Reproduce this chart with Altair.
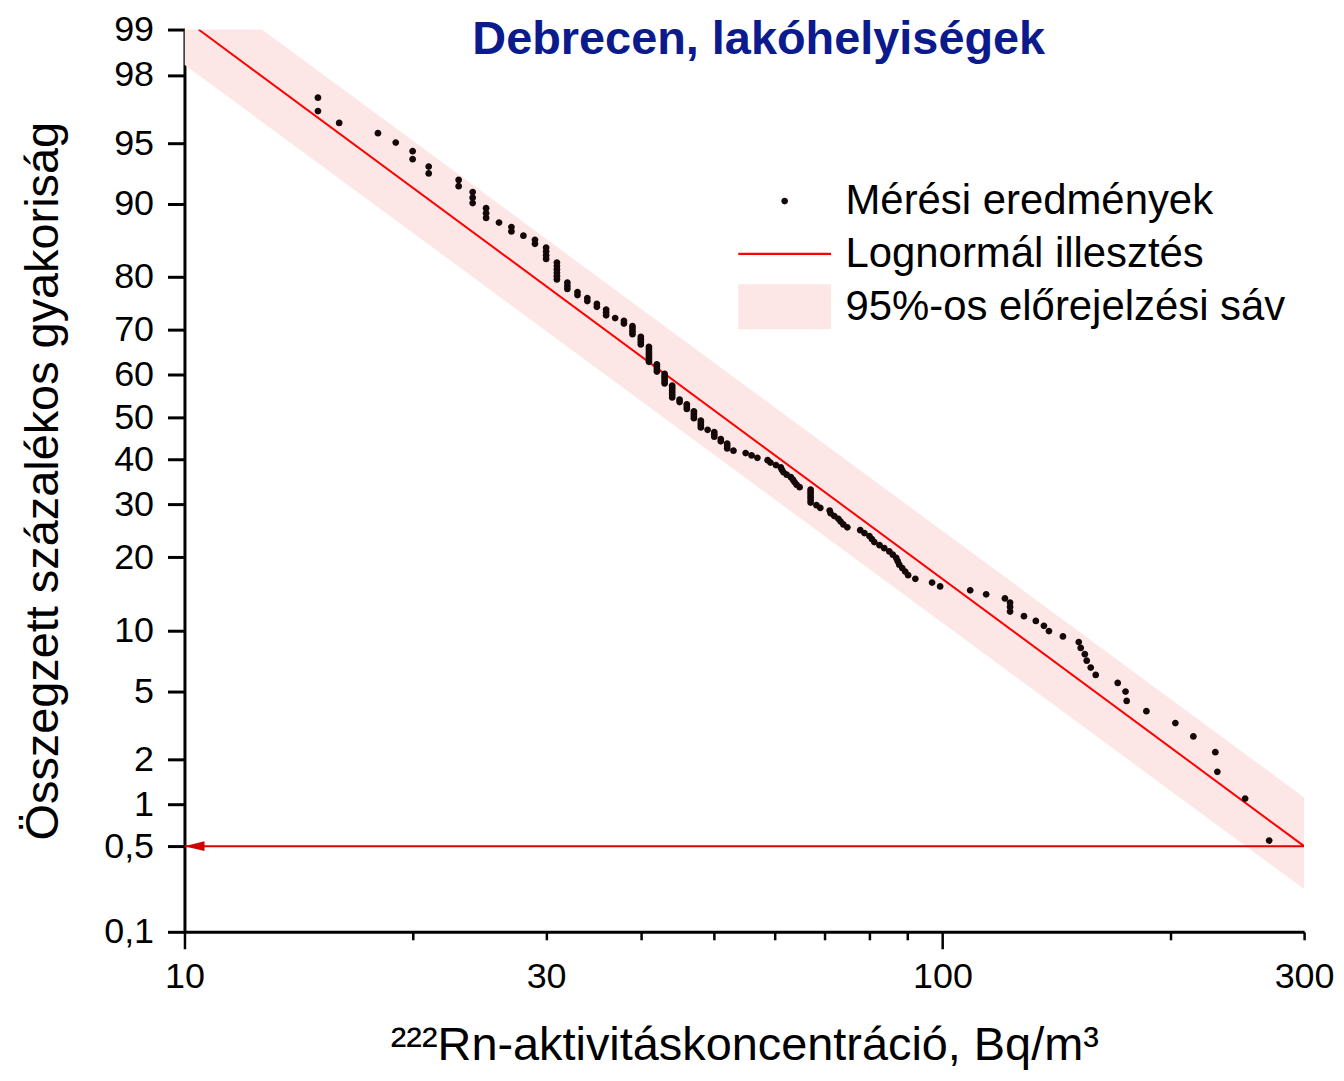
import altair as alt
import pandas as pd
from statistics import NormalDist

# ---- data -----------------------------------------------------------------
# measured 222Rn concentrations (Bq/m3) and their plotted exceedance percentages
meas_x = [269.8, 250.8, 230.5, 229.1, 214.3, 202.9, 185.8, 175.0, 174.4, 170.3,
          159.3, 156.9, 155.0, 154.1, 152.2, 151.3, 144.2, 138.2, 136.1, 132.8,
          128.1, 122.8, 122.8, 122.8, 120.9, 114.2, 108.8, 99.3, 96.9, 92.1,
          90.1, 89.3, 88.5, 87.7, 87.3, 86.9, 86.0, 85.1, 83.8, 82.6,
          81.3, 80.7, 80.1, 78.9, 77.9, 74.9, 74.0, 73.4, 72.9, 72.0,
          71.2, 71.0, 69.0, 68.2, 67, 67, 67, 67, 67, 67,
          64.8, 64.2, 63.8, 63.5, 63.1, 62.3, 61.7, 61.4, 61.2, 60.3,
          59.3, 58.8, 57, 56, 55, 53, 52, 52, 52, 51,
          51, 50, 50, 50, 49, 48, 48, 48, 48, 47,
          47, 47, 47, 46, 46, 46, 45, 45, 44, 44,
          44, 44, 44, 44, 43, 43, 43, 43, 43, 42,
          42, 42, 42, 41, 41, 41, 41, 41, 41, 41,
          40, 40, 40, 40, 39, 39, 39, 39, 38, 38,
          37, 36, 36, 36, 35, 35, 34, 34, 33, 33,
          32, 32, 32, 31, 31, 31, 31, 31, 31, 30,
          30, 30, 30, 29, 29, 28, 27, 27, 26, 25,
          25, 25, 24, 24, 24, 23, 23, 21, 21, 20,
          20, 19, 18, 16, 15, 15]
meas_p = [0.55, 1.10, 1.66, 2.21, 2.76, 3.31, 3.87, 4.42, 4.97, 5.52,
          6.08, 6.63, 7.18, 7.73, 8.29, 8.84, 9.39, 9.94, 10.50, 11.05,
          11.60, 12.15, 12.71, 13.26, 13.81, 14.36, 14.92, 15.47, 16.02, 16.57,
          17.13, 17.68, 18.23, 18.78, 19.34, 19.89, 20.44, 20.99, 21.55, 22.10,
          22.65, 23.20, 23.76, 24.31, 24.86, 25.41, 25.97, 26.52, 27.07, 27.62,
          28.18, 28.73, 29.28, 29.83, 30.39, 30.94, 31.49, 32.04, 32.60, 33.15,
          33.70, 34.25, 34.81, 35.36, 35.91, 36.46, 37.02, 37.57, 38.12, 38.67,
          39.23, 39.78, 40.33, 40.88, 41.44, 41.99, 42.54, 43.09, 43.65, 44.20,
          44.75, 45.30, 45.86, 46.41, 46.96, 47.51, 48.07, 48.62, 49.17, 49.72,
          50.28, 50.83, 51.38, 51.93, 52.49, 53.04, 53.59, 54.14, 54.70, 55.25,
          55.80, 56.35, 56.91, 57.46, 58.01, 58.56, 59.12, 59.67, 60.22, 60.77,
          61.33, 61.88, 62.43, 62.98, 63.54, 64.09, 64.64, 65.19, 65.75, 66.30,
          66.85, 67.40, 67.96, 68.51, 69.06, 69.61, 70.17, 70.72, 71.27, 71.82,
          72.38, 72.93, 73.48, 74.03, 74.59, 75.14, 75.69, 76.24, 76.80, 77.35,
          77.90, 78.45, 79.01, 79.56, 80.11, 80.66, 81.22, 81.77, 82.32, 82.87,
          83.43, 83.98, 84.53, 85.08, 85.64, 86.19, 86.74, 87.29, 87.85, 88.40,
          88.95, 89.50, 90.06, 90.61, 91.16, 91.71, 92.27, 92.82, 93.37, 93.92,
          94.48, 95.03, 95.58, 96.13, 96.69, 97.24]

# lognormal fit (straight line on the probability plot)
fit_x = [10.44, 300.0]
fit_p = [99.0, 0.5]

# 95% prediction band
band_x = [10.0, 300.0]
band_upper = [99.62, 1.12]
band_lower = [98.28, 0.23]

# 0.5 % reference line with arrow
ref_x = [10.0, 300.0]
ref_p = [0.5, 0.5]
arrow_x = [10.31]
arrow_p = [0.5]

y_ticks = [0.1, 0.5, 1, 2, 5, 10, 20, 30, 40, 50, 60, 70, 80, 90, 95, 98, 99]
x_ticks = [10, 20, 30, 40, 50, 60, 70, 80, 90, 100, 200, 300]
x_tick_labels = [10, 30, 100, 300]
x_major_ticks = [10, 100]

series_names = ["Mérési eredmények", "Lognormál illesztés", "95%-os előrejelzési sáv"]
series_colors = ["#140808", "#ff0000", "#fde6e6"]

TITLE = "Debrecen, lakóhelyiségek"
X_TITLE = "²²²Rn-aktivitáskoncentráció, Bq/m³"
Y_TITLE = "Összegzett százalékos gyakoriság"

# ---- chart -----------------------------------------------------------------
FONT = "Liberation Sans"
nd = NormalDist()
z_min = nd.inv_cdf(0.001)
z_max = nd.inv_cdf(0.99)
y_tick_z = [nd.inv_cdf(v / 100) for v in y_ticks]

meas_df = pd.DataFrame({"x": meas_x, "p": meas_p, "series": series_names[0]})
fit_df = pd.DataFrame({"x": fit_x, "p": fit_p})
band_df = pd.DataFrame({"x": band_x, "pu": band_upper, "pl": band_lower})
ref_df = pd.DataFrame({"x": ref_x, "p": ref_p})
arrow_df = pd.DataFrame({"x": arrow_x, "p": arrow_p})
title_df = pd.DataFrame({"t": [TITLE]})

xs = alt.Scale(type="log", domain=[10, 300], nice=False)
ys = alt.Scale(domain=[z_min, z_max], nice=False, zero=False)

lbl_list = ",".join(str(v) for v in x_tick_labels)
maj_list = ",".join(str(v) for v in x_major_ticks)
is_major = f"indexof([{maj_list}], datum.value) >= 0"

x_axis = alt.Axis(
    values=x_ticks,
    labelExpr=f"indexof([{lbl_list}], datum.value) >= 0 ? datum.value + '' : ''",
    tickSize={"condition": {"test": is_major, "value": 17}, "value": 8},
    labelPadding={"condition": {"test": is_major, "value": 11}, "value": 20},
    tickWidth=2.5, tickColor="black",
    domainWidth=3, domainColor="black",
    labelFont=FONT, labelFontSize=36, labelColor="black",
    labelFlush=False, labelOverlap=False, grid=False,
    title=X_TITLE, titleFont=FONT, titleFontSize=47, titleFontWeight="normal",
    titleColor="black", titlePadding=28,
)
y_axis = alt.Axis(
    values=y_tick_z,
    labelExpr="replace(toString(round(cumulativeNormal(datum.value)*1000)/10), '.', ',')",
    tickSize=17, tickWidth=3, tickColor="black",
    domainWidth=3, domainColor="black",
    labelFont=FONT, labelFontSize=36, labelColor="black", labelPadding=14,
    labelOverlap=False, grid=False,
    title=Y_TITLE, titleFont=FONT, titleFontSize=47, titleFontWeight="normal",
    titleColor="black", titlePadding=36,
)


def X():
    return alt.X("x:Q", scale=xs, axis=x_axis)


def Y(field):
    return alt.Y(f"{field}:Q", scale=ys, axis=y_axis)


dot_path = "M-0.13,0A0.13,0.13 0 1 0 0.13,0A0.13,0.13 0 1 0 -0.13,0Z"
line_path = "M-1.79,-0.04H1.79V0.04H-1.79Z"
rect_path = "M-1.79,-0.865H1.79V0.865H-1.79Z"

legend = alt.Legend(
    orient="none", legendX=576, legendY=146, title=None,
    labelFont=FONT, labelFontSize=42, labelColor="black", labelLimit=900,
    labelOffset=35, symbolSize=2704, symbolStrokeWidth=0, symbolOpacity=1,
    rowPadding=6, padding=0,
)

band = alt.Chart(band_df).transform_calculate(
    zu="quantileNormal(datum.pu/100)", zl="quantileNormal(datum.pl/100)"
).mark_area(color=series_colors[2], clip=True).encode(
    x=X(), y=Y("zu"), y2="zl:Q"
)

fit = alt.Chart(fit_df).transform_calculate(
    z="quantileNormal(datum.p/100)"
).mark_line(color=series_colors[1], strokeWidth=2, clip=True).encode(
    x=X(), y=Y("z")
)

ref = alt.Chart(ref_df).transform_calculate(
    z="quantileNormal(datum.p/100)"
).mark_line(color="#e00000", strokeWidth=2, clip=True).encode(
    x=X(), y=Y("z")
)

arrow = alt.Chart(arrow_df).transform_calculate(
    z="quantileNormal(datum.p/100)"
).mark_point(shape="M-1,0L1,-0.5L1,0.5Z", filled=True, color="#d00000",
             size=400, opacity=1, strokeWidth=0).encode(
    x=X(), y=Y("z")
)

points = alt.Chart(meas_df).transform_calculate(
    z="quantileNormal(datum.p/100)"
).mark_point(filled=True, size=2704, opacity=1, strokeWidth=0).encode(
    x=X(), y=Y("z"),
    color=alt.Color("series:N", scale=alt.Scale(domain=series_names, range=series_colors), legend=legend),
    shape=alt.Shape("series:N", scale=alt.Scale(domain=series_names, range=[dot_path, line_path, rect_path]), legend=legend),
)

title_text = alt.Chart(title_df).mark_text(
    font=FONT, fontSize=47, fontWeight="bold", color="#0b1a8c",
    align="center", baseline="alphabetic",
).encode(text="t:N", x=alt.value(576), y=alt.value(25))

chart = alt.layer(band, fit, ref, arrow, points, title_text).properties(
    width=1123,
    height=905,
    autosize=alt.AutoSizeParams(type="none"),
    padding={"left": 177, "top": 20, "right": 32, "bottom": 140},
).configure_view(stroke=None)

chart.save("out.html", embed_options={"renderer": "svg", "actions": False})
